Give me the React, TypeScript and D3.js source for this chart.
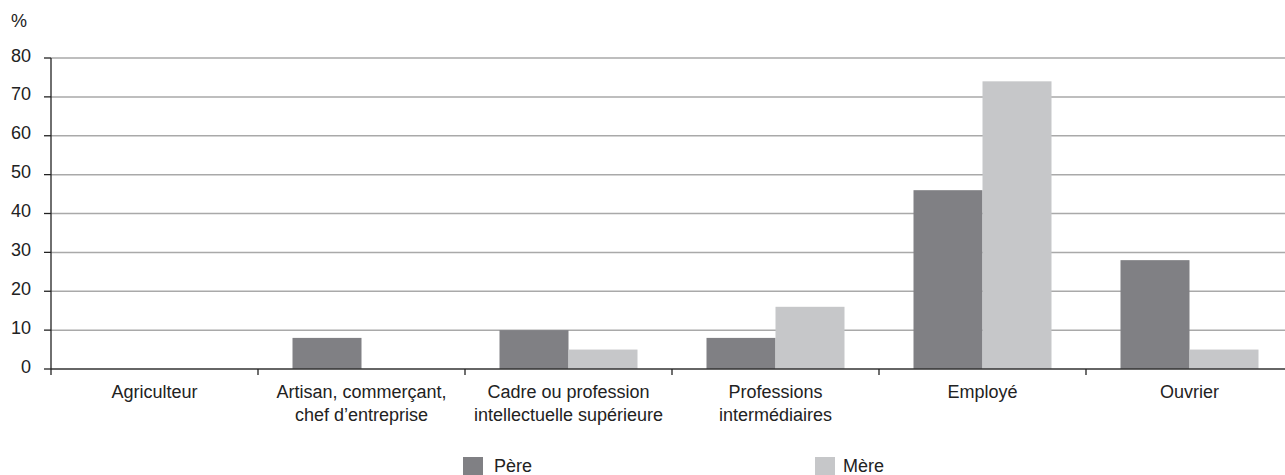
import React from "react";
import * as d3 from "d3";

const categories: string[][] = [
  ["Agriculteur"],
  ["Artisan, commerçant,", "chef d\u2019entreprise"],
  ["Cadre ou profession", "intellectuelle supérieure"],
  ["Professions", "intermédiaires"],
  ["Employé"],
  ["Ouvrier"],
];
const seriesNames = ["Père", "Mère"];
const pere = [0, 8, 10, 8, 46, 28];
const mere = [0, 0, 5, 16, 74, 5];
const yTicks = [0, 10, 20, 30, 40, 50, 60, 70, 80];
const colors = ["#808084", "#c6c7c9"];

const W = 1285;
const H = 475;
const FONT = "'Liberation Sans', Arial, sans-serif";
const FS = 18;

export default function App() {
  const keys = categories.map((c) => c.join(" "));
  const x = d3.scaleBand<string>().domain(keys).range([51, 1293]).padding(0);
  const x1 = d3
    .scaleBand<string>()
    .domain(seriesNames)
    .range([0, x.bandwidth()])
    .paddingInner(0)
    .paddingOuter(0.5);
  const y = d3.scaleLinear().domain([0, 80]).range([369, 58]);
  const values = [pere, mere];

  return (
    <svg
      width={W}
      height={H}
      style={{ position: "absolute", left: 0, top: 0, display: "block" }}
      fontFamily={FONT}
    >
      <rect width={W} height={H} fill="#fff" />
      <text x={11} y={27} fontSize={FS} fill="#222">%</text>
      {yTicks.filter((t) => t > 0).map((t) => (
        <line key={"g" + t} x1={51} x2={W} y1={y(t)} y2={y(t)} stroke="#a9a9a9" strokeWidth={1.5} />
      ))}
      {yTicks.map((t) => (
        <g key={"t" + t}>
          <line x1={44} x2={51} y1={y(t)} y2={y(t)} stroke="#222" strokeWidth={1.3} />
          <text x={31} y={y(t) + 3.5} textAnchor="end" fontSize={FS} fill="#222">{t}</text>
        </g>
      ))}
      {keys.map((k, i) => (
        <g key={"b" + k} transform={`translate(${x(k)},0)`}>
          {seriesNames.map((s, j) =>
            values[j][i] > 0 ? (
              <rect
                key={s}
                x={x1(s)}
                width={x1.bandwidth()}
                y={y(values[j][i])}
                height={y(0) - y(values[j][i])}
                fill={colors[j]}
              />
            ) : null
          )}
        </g>
      ))}
      <line x1={51} x2={W} y1={y(0)} y2={y(0)} stroke="#333" strokeWidth={1.5} />
      <line x1={51} x2={51} y1={y(80)} y2={375} stroke="#222" strokeWidth={1.3} />
      {keys.map((k, i) => (
        <g key={"l" + k}>
          {i > 0 && <line x1={x(k)} x2={x(k)} y1={y(0)} y2={375} stroke="#222" strokeWidth={1.3} />}
          <text textAnchor="middle" fontSize={FS} fill="#222">
            {categories[i].map((line, li) => (
              <tspan key={li} x={(x(k) as number) + x.bandwidth() / 2} y={397.5 + li * 23}>
                {line}
              </tspan>
            ))}
          </text>
        </g>
      ))}
      <g>
        <rect x={463} y={457} width={20} height={20} fill={colors[0]} />
        <text x={494} y={472} fontSize={FS} fill="#222">{seriesNames[0]}</text>
        <rect x={815} y={457} width={20} height={20} fill={colors[1]} />
        <text x={843} y={472} fontSize={FS} fill="#222">{seriesNames[1]}</text>
      </g>
    </svg>
  );
}
